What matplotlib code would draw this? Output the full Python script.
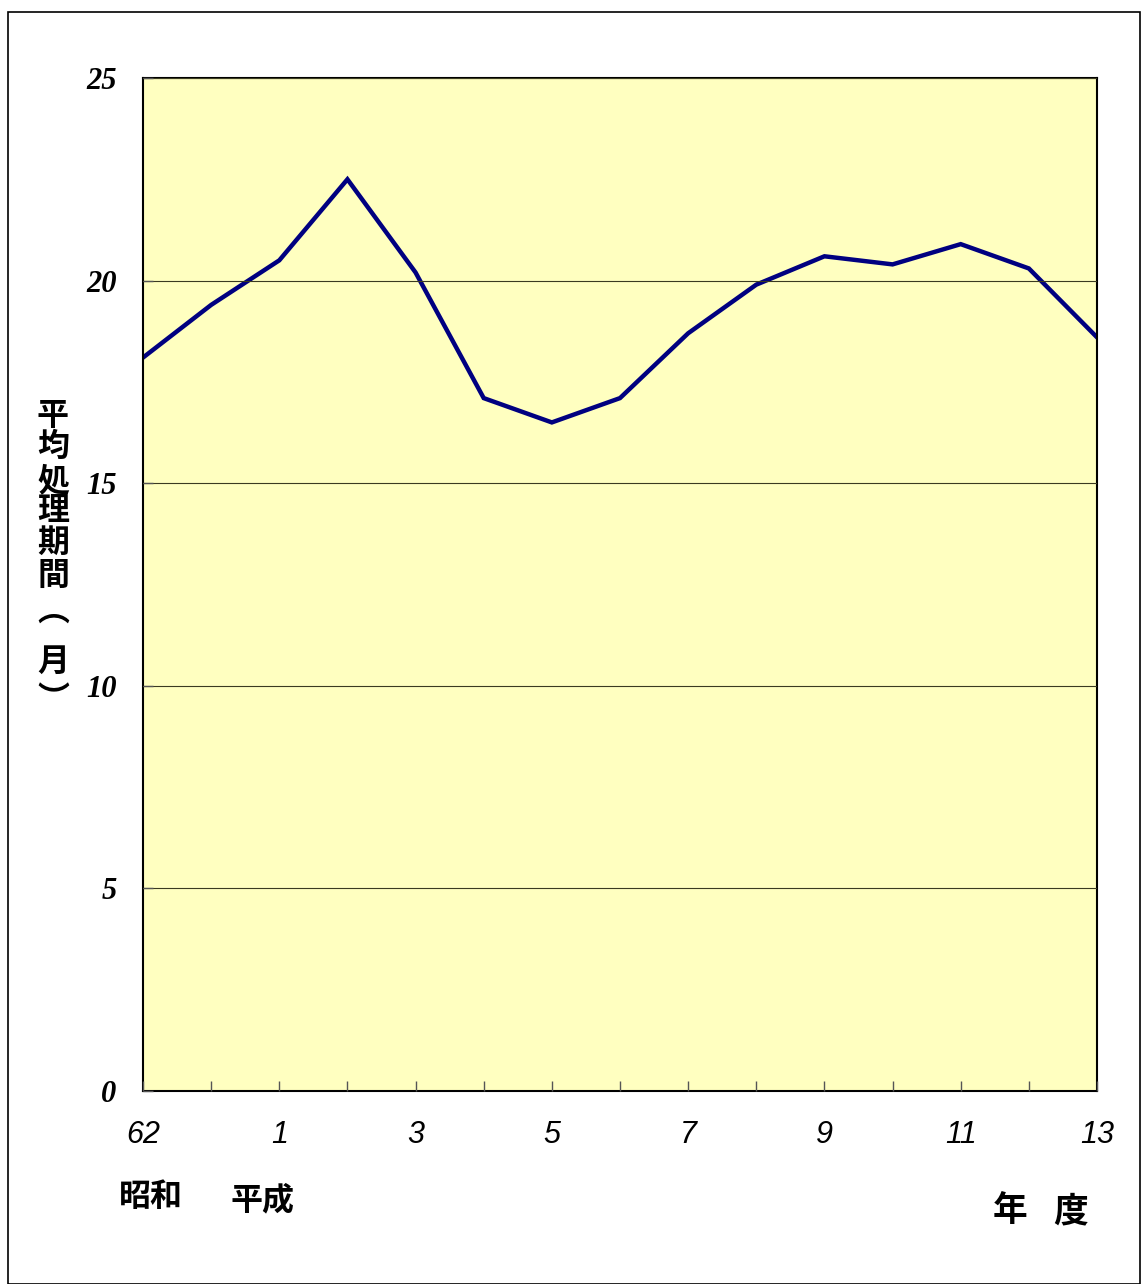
import matplotlib
matplotlib.use("Agg")
import matplotlib.pyplot as plt
from matplotlib.patches import Rectangle

# fiscal years (Showa 62 -> Heisei 13) and average processing period in months
years = ["62", "63", "1", "2", "3", "4", "5", "6", "7", "8", "9", "10", "11", "12", "13"]
months = [18.1, 19.4, 20.5, 22.5, 20.2, 17.1, 16.5, 17.1, 18.7, 19.9, 20.6, 20.4, 20.9, 20.3, 18.6]
y_ticks = [0, 5, 10, 15, 20, 25]
y_label = "平均処理期間︵月︶"

W, H = 1147, 1284
fig = plt.figure(figsize=(W / 100, H / 100), dpi=100)
fig.patches.append(Rectangle((8 / W, 0.0), (1140 - 8) / W, 1 - 12 / H,
                             transform=fig.transFigure, fill=False,
                             edgecolor="black", lw=1.2))

ax = fig.add_axes([143 / W, 1 - 1091 / H, (1097 - 143) / W, (1091 - 78) / H])
ax.set_facecolor("#FFFFC0")

x = list(range(len(years)))
ax.plot(x, months, color="#000080", lw=3.2, solid_joinstyle="miter")

ax.set_xlim(0, len(years) - 1)
ax.set_ylim(0, 25)
ax.set_xticks(x)
ax.set_xticklabels([y if i % 2 == 0 else "" for i, y in enumerate(years)],
                   fontfamily="Liberation Sans", fontstyle="italic", fontsize=22)
ax.set_yticks(y_ticks)
ax.set_yticklabels([str(v) for v in y_ticks], fontfamily="Liberation Serif",
                   fontstyle="italic", fontweight="bold", fontsize=22)
ax.tick_params(axis="x", direction="in", length=7, width=1, color="#555555", pad=21)
ax.tick_params(axis="y", direction="in", length=7, width=1, color="#555555", pad=19)
ax.grid(axis="y", color="#3a3a20", lw=0.8)
ax.set_axisbelow(False)
for sp in ax.spines.values():
    sp.set_color("black")
    sp.set_linewidth(1.5)

jp = dict(fontfamily=["Noto Sans CJK JP", "DejaVu Sans"], fontweight="bold",
          ha="center", va="center")


def px(xp, yp):
    return xp / W, 1 - yp / H


fig.text(*px(151, 1197), "昭和", fontsize=23, **jp)
fig.text(*px(262, 1200), "平成", fontsize=23, **jp)
fig.text(*px(1010, 1211), "年", fontsize=25, **jp)
fig.text(*px(1071, 1211), "度", fontsize=25, **jp)

# stacked vertical axis label
label_y = [416, 447, 481, 511, 543, 576, 612, 662, 700]
for ch, yp in zip(y_label, label_y):
    fig.text(*px(53, yp), ch, fontsize=23, **jp)

fig.savefig("out.png", dpi=100)
